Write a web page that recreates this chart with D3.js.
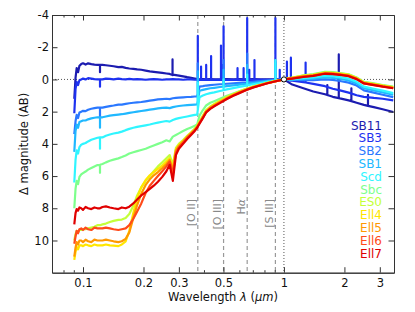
<!DOCTYPE html>
<html>
<head>
<meta charset="utf-8">
<script src="https://cdn.jsdelivr.net/npm/d3@7"></script>
<style>
body { margin: 0; background: #fff; }
svg { display: block; font-family: "DejaVu Sans", sans-serif; }
</style>
</head>
<body>
<div id="chart"></div>
<script>
// wavelength grid in micron, shared by every template
var waveGrid = [
    0.0905, 0.0918, 0.093, 0.0945, 0.096, 0.098, 0.1, 0.103, 0.106, 0.11, 0.114,
    0.118, 0.1215, 0.125, 0.13, 0.136, 0.142, 0.15, 0.156, 0.163, 0.17, 0.178,
    0.186, 0.195, 0.205, 0.215, 0.225, 0.236, 0.248, 0.26, 0.27, 0.28, 0.29,
    0.3, 0.315, 0.33, 0.345, 0.36, 0.37, 0.38, 0.395, 0.41, 0.43, 0.45,
    0.48, 0.52, 0.56, 0.6, 0.65, 0.7, 0.76, 0.82, 0.9, 1.0, 1.1,
    1.25, 1.4, 1.6, 1.75, 1.9, 2.1, 2.3, 2.5, 2.8, 3.1, 3.5
];

// delta magnitude (AB) of each template on the grid, normalised at 1 micron
var magSB11 = [
    1.2, -0.1, -0.7, -0.45, -0.85, -0.95, -1.0, -0.92, -1.0, -0.95, -0.92,
    -0.9, -0.9, -0.9, -0.88, -0.85, -0.82, -0.76, -0.78, -0.72, -0.68, -0.66,
    -0.62, -0.6, -0.55, -0.5, -0.47, -0.44, -0.41, -0.37, -0.34, -0.3, -0.27,
    -0.24, -0.19, -0.14, -0.1, -0.05, -0.02, 0.0, -0.02, 0.0, -0.02, 0.0,
    0.0, -0.02, 0.0, -0.02, 0.0, -0.02, 0.0, 0.0, 0.0, 0.0, 0.32,
    0.55, 0.75, 0.92, 1.08, 1.18, 1.3, 1.45, 1.58, 1.72, 1.85, 2.02
];
var magSB3 = [
    2.1, 0.6, 0.15, 0.35, 0.05, 0.0, -0.05, 0.0, -0.08, -0.05, -0.02,
    0.0, 0.0, 0.0, -0.05, -0.03, 0.0, -0.05, -0.02, 0.0, -0.03, 0.0,
    -0.02, 0.0, 0.02, 0.0, -0.02, 0.0, 0.02, 0.0, 0.0, -0.02, 0.0,
    0.0, 0.02, 0.0, 0.0, 0.02, 0.02, 0.03, 0.03, 0.03, 0.03, 0.03,
    0.03, 0.03, 0.03, 0.03, 0.03, 0.03, 0.02, 0.02, 0.02, 0.0, 0.08,
    0.17, 0.28, 0.42, 0.58, 0.68, 0.82, 0.98, 1.08, 1.15, 1.2, 1.3
];
var magSB2 = [
    3.4, 2.6, 2.2, 2.4, 2.05, 2.0, 1.95, 1.97, 1.88, 1.82, 1.78,
    1.75, 1.75, 1.75, 1.7, 1.66, 1.62, 1.56, 1.56, 1.52, 1.48, 1.45,
    1.42, 1.4, 1.36, 1.32, 1.28, 1.24, 1.22, 1.2, 1.22, 1.17, 1.15,
    1.13, 1.11, 1.09, 1.08, 1.06, 1.05, 0.45, 0.42, 0.38, 0.35, 0.33,
    0.3, 0.27, 0.24, 0.21, 0.18, 0.15, 0.11, 0.08, 0.04, 0.0, 0.02,
    0.04, 0.04, 0.0, 0.03, 0.1, 0.2, 0.38, 0.68, 0.82, 0.95, 1.1
];
var magSB1 = [
    4.5, 3.2, 2.8, 3.0, 2.65, 2.6, 2.55, 2.55, 2.48, 2.42, 2.38,
    2.35, 2.35, 2.35, 2.3, 2.25, 2.22, 2.18, 2.16, 2.12, 2.08, 2.04,
    2.0, 1.96, 1.92, 1.88, 1.84, 1.8, 1.77, 1.75, 1.78, 1.72, 1.68,
    1.65, 1.62, 1.6, 1.58, 1.56, 1.55, 0.7, 0.65, 0.6, 0.55, 0.52,
    0.47, 0.42, 0.37, 0.32, 0.27, 0.22, 0.16, 0.11, 0.06, 0.0, 0.0,
    -0.02, -0.05, -0.12, -0.1, -0.04, 0.06, 0.25, 0.55, 0.68, 0.8, 0.95
];
var magScd = [
    6.4, 5.0, 4.4, 4.6, 4.2, 4.05, 4.0, 3.95, 3.85, 3.75, 3.68,
    3.62, 3.6, 3.6, 3.5, 3.42, 3.36, 3.3, 3.24, 3.15, 3.07, 3.0,
    2.95, 2.9, 2.85, 2.8, 2.74, 2.68, 2.63, 2.58, 2.62, 2.52, 2.45,
    2.4, 2.35, 2.3, 2.25, 2.2, 2.18, 1.1, 1.0, 0.92, 0.85, 0.8,
    0.72, 0.62, 0.54, 0.46, 0.38, 0.3, 0.22, 0.15, 0.08, 0.0, 0.0,
    -0.08, -0.12, -0.22, -0.2, -0.14, -0.05, 0.15, 0.45, 0.58, 0.7, 0.85
];
var magSbc = [
    8.0, 6.8, 6.3, 6.5, 6.05, 5.9, 5.82, 5.72, 5.6, 5.5, 5.4,
    5.32, 5.3, 5.25, 5.15, 5.05, 4.98, 4.9, 4.82, 4.72, 4.6, 4.52,
    4.45, 4.38, 4.3, 4.2, 4.1, 4.0, 3.9, 3.78, 3.85, 3.55, 3.45,
    3.35, 3.2, 3.08, 2.98, 2.88, 2.8, 2.25, 1.9, 1.62, 1.45, 1.35,
    1.2, 1.02, 0.87, 0.73, 0.58, 0.45, 0.33, 0.22, 0.11, 0.0, -0.1,
    -0.25, -0.33, -0.47, -0.45, -0.4, -0.32, -0.12, 0.15, 0.25, 0.35, 0.45
];
var magES0 = [
    10.0, 9.6, 9.4, 9.5, 9.35, 9.35, 9.3, 9.3, 9.25, 9.2, 9.15,
    9.05, 9.05, 9.0, 8.95, 8.85, 8.78, 8.72, 8.7, 8.6, 8.35, 7.85,
    7.2, 6.7, 6.3, 6.0, 5.7, 5.4, 5.15, 4.9, 4.7, 5.3, 4.25,
    4.0, 3.76, 3.5, 3.28, 3.05, 2.85, 2.6, 2.25, 1.9, 1.68, 1.52,
    1.32, 1.08, 0.9, 0.75, 0.58, 0.45, 0.33, 0.22, 0.11, 0.0, -0.12,
    -0.24, -0.3, -0.44, -0.42, -0.37, -0.3, -0.1, 0.17, 0.27, 0.37, 0.47
];
var magEll4 = [
    11.2, 10.7, 10.4, 10.55, 10.3, 10.3, 10.35, 10.25, 10.3, 10.35, 10.25,
    10.3, 10.3, 10.3, 10.25, 10.3, 10.32, 10.35, 10.25, 10.05, 9.4, 8.3,
    7.35, 6.7, 6.25, 5.95, 5.75, 5.55, 5.35, 5.1, 4.9, 5.5, 4.35,
    4.08, 3.82, 3.55, 3.32, 3.1, 2.9, 2.65, 2.3, 1.95, 1.72, 1.56,
    1.36, 1.12, 0.93, 0.78, 0.61, 0.47, 0.35, 0.23, 0.12, 0.0, -0.1,
    -0.22, -0.28, -0.42, -0.4, -0.35, -0.28, -0.08, 0.19, 0.29, 0.39, 0.49
];
var magEll5 = [
    11.0, 10.45, 10.1, 10.25, 10.0, 10.0, 10.1, 9.95, 10.05, 10.1, 9.95,
    10.0, 10.0, 10.0, 9.95, 10.0, 10.05, 10.1, 10.05, 9.9, 9.5, 8.6,
    7.8, 7.1, 6.55, 6.2, 5.95, 5.75, 5.5, 5.25, 5.0, 5.65, 4.42,
    4.13, 3.86, 3.58, 3.35, 3.12, 2.93, 2.69, 2.34, 1.99, 1.76, 1.6,
    1.4, 1.16, 0.96, 0.8, 0.63, 0.49, 0.36, 0.24, 0.12, 0.0, -0.08,
    -0.19, -0.25, -0.39, -0.37, -0.32, -0.24, -0.05, 0.22, 0.32, 0.42, 0.52
];
var magEll6 = [
    10.2, 9.75, 9.4, 9.55, 9.3, 9.25, 9.35, 9.2, 9.3, 9.35, 9.2,
    9.25, 9.25, 9.25, 9.2, 9.25, 9.3, 9.35, 9.3, 9.25, 9.05, 8.65,
    8.2, 7.7, 7.05, 6.6, 6.3, 6.0, 5.7, 5.4, 5.1, 5.9, 4.55,
    4.22, 3.92, 3.63, 3.39, 3.16, 2.97, 2.72, 2.38, 2.03, 1.8, 1.64,
    1.44, 1.2, 0.99, 0.83, 0.65, 0.5, 0.37, 0.25, 0.13, 0.0, -0.06,
    -0.17, -0.24, -0.37, -0.35, -0.3, -0.22, -0.03, 0.24, 0.34, 0.44, 0.54
];
var magEll7 = [
    9.0, 8.3, 8.05, 8.15, 7.95, 8.0, 8.1, 7.92, 8.0, 8.05, 7.95,
    8.0, 8.0, 7.92, 7.88, 7.95, 8.0, 8.05, 7.95, 8.0, 7.9, 7.7,
    7.45, 7.2, 7.0, 6.8, 6.6, 6.35, 6.05, 5.7, 5.3, 6.3, 4.7,
    4.3, 4.0, 3.7, 3.45, 3.2, 3.0, 2.75, 2.4, 2.05, 1.83, 1.67,
    1.47, 1.22, 1.01, 0.85, 0.66, 0.51, 0.38, 0.25, 0.13, 0.0, -0.05,
    -0.15, -0.22, -0.35, -0.33, -0.28, -0.2, -0.02, 0.25, 0.35, 0.45, 0.55
];

// narrow features: [wavelength, continuum under the feature, feature tip]
var linesSB11 = [[0.1215, -0.9, -0.45], [0.279, -0.27, -1.24], [1.644, 0.97, 0.35],
    [1.875, 1.16, -1.55], [2.166, 1.35, 0.55], [2.62, 1.64, 0.95]];
var linesSB3 = [[0.1215, 0.0, 0.45], [0.3727, 0.03, -2.7], [0.3869, 0.03, -0.8], [0.4102, 0.03, -0.9],
    [0.434, 0.03, -1.45], [0.4861, 0.03, -2.1], [0.4959, 0.03, -0.9], [0.5007, 0.03, -3.3],
    [0.5876, 0.03, -0.7], [0.63, 0.03, -0.7], [0.6563, 0.03, -3.8], [0.6724, 0.03, -0.6],
    [0.7135, 0.03, -1.2], [0.9069, 0.02, -3.8], [0.9532, 0.01, -0.6], [1.035, 0.03, -1.1],
    [1.083, 0.07, -1.35], [1.282, 0.19, -1.05]];
var linesSB2 = [[0.1215, 1.75, 2.4], [0.3727, 0.89, -1.0], [0.5007, 0.285, -1.2],
    [0.6563, 0.176, -1.6], [0.9069, 0.037, -1.1]];
var linesSB1 = [[0.1215, 2.35, 3.0], [0.3727, 1.32, -0.5], [0.5007, 0.445, -0.6],
    [0.6563, 0.264, -0.9], [0.9069, 0.056, -1.0]];
var linesScd = [[0.1215, 3.6, 4.3], [0.3727, 1.89, 0.2], [0.5007, 0.67, 0.0],
    [0.6563, 0.37, -0.3], [0.9069, 0.075, -1.2]];
var linesSbc = [[0.1215, 5.3, 5.8]];

var templateNames = ["SB11", "SB3", "SB2", "SB1", "Scd", "Sbc", "ES0", "Ell4", "Ell5", "Ell6", "Ell7"];
var templateMags = [magSB11, magSB3, magSB2, magSB1, magScd, magSbc, magES0, magEll4, magEll5, magEll6, magEll7];
var templateLines = [linesSB11, linesSB3, linesSB2, linesSB1, linesScd, linesSbc, [], [], [], [], []];
var templateColors = ["#1c1cb0", "#1e32f0", "#2a78ff", "#20b8ff", "#30f5ff", "#7dff8c",
    "#c4ff3a", "#ffe600", "#ff9800", "#ff4a1a", "#e00000"];

var refLineNames = ["[O II]", "[O III]", "H", "[S III]"];
var refLineWaves = [0.3727, 0.5007, 0.6563, 0.9069];

var xMajorTicks = [0.1, 0.2, 0.3, 0.5, 1, 2, 3];
var xMinorTicks = [0.08, 0.09, 0.4, 0.6, 0.7, 0.8, 0.9];
var yTicks = [-4, -2, 0, 2, 4, 6, 8, 10];

var width = 415, height = 312;
var margin = {top: 15, right: 21, bottom: 39.3, left: 52};

var svg = d3.select("#chart").append("svg")
    .attr("width", width)
    .attr("height", height);

svg.append("rect").attr("width", width).attr("height", height).attr("fill", "#fff");

var x = d3.scaleLog().domain([0.0701, 3.53]).range([margin.left, width - margin.right]);
var y = d3.scaleLinear().domain([-4, 12]).range([margin.top, height - margin.bottom]);

var x0 = margin.left, x1 = width - margin.right;
var y0 = margin.top, y1 = height - margin.bottom;

svg.append("clipPath").attr("id", "plotclip")
    .append("rect")
    .attr("x", x0).attr("y", y0)
    .attr("width", x1 - x0).attr("height", y1 - y0);

// dashed reference lines for the main emission lines
svg.selectAll(".refline")
    .data(refLineWaves)
    .enter().append("line")
    .attr("class", "refline")
    .attr("x1", function(d) { return x(d); })
    .attr("x2", function(d) { return x(d); })
    .attr("y1", y0).attr("y2", y1)
    .style("stroke", "#999")
    .style("stroke-width", 1.2)
    .style("stroke-dasharray", "4,3");

svg.selectAll(".reflabel")
    .data(refLineNames)
    .enter().append("text")
    .attr("class", "reflabel")
    .attr("transform", function(d, i) {
        return "translate(" + (x(refLineWaves[i]) - 2.5) + "," + 199 + ")rotate(-90)";
    })
    .attr("text-anchor", "end")
    .style("font-size", "11px")
    .style("fill", "#888")
    .each(function(d, i) {
        var t = d3.select(this);
        t.append("tspan").text(d);
        if (d === "H") {
            t.append("tspan").style("font-style", "italic").text("α");
        }
    });

// dotted normalisation lines
svg.append("line")
    .attr("x1", x0).attr("x2", x1)
    .attr("y1", y(0)).attr("y2", y(0))
    .style("stroke", "#555").style("stroke-width", 1)
    .style("stroke-dasharray", "1,2");
svg.append("line")
    .attr("x1", x(1)).attr("x2", x(1))
    .attr("y1", y0).attr("y2", y1)
    .style("stroke", "#555").style("stroke-width", 1)
    .style("stroke-dasharray", "1,2");

// merge continuum grid and narrow features into one sorted list
function buildPoints(mags, lines) {
    var pts = waveGrid.map(function(w, i) { return [w, mags[i]]; });
    lines.forEach(function(l) {
        pts.push([l[0], l[1]], [l[0], l[2]], [l[0], l[1]]);
    });
    pts.sort(function(a, b) { return a[0] - b[0]; });
    return pts;
}

var lineGen = d3.line()
    .x(function(d) { return x(d[0]); })
    .y(function(d) { return y(d[1]); });

var spectra = svg.append("g").attr("clip-path", "url(#plotclip)");
spectra.selectAll(".spec")
    .data(templateNames)
    .enter().append("path")
    .attr("class", "spec")
    .attr("d", function(d, i) { return lineGen(buildPoints(templateMags[i], templateLines[i])); })
    .style("fill", "none")
    .style("stroke", function(d, i) { return templateColors[i]; })
    .style("stroke-width", 2.2)
    .style("stroke-linejoin", "round");

// normalisation point
svg.append("circle")
    .attr("cx", x(1)).attr("cy", y(0)).attr("r", 2.6)
    .style("fill", "#fff").style("stroke", "#000").style("stroke-width", 1);

// axes, ticks pointing inward on all four sides
function styleAxis(g) {
    g.selectAll("path.domain").style("stroke", "#333");
    g.selectAll(".tick line").style("stroke", "#333");
    g.selectAll(".tick text").style("font-size", "11.5px").style("fill", "#111")
        .style("font-family", "DejaVu Sans, sans-serif");
}

svg.append("g")
    .attr("transform", "translate(0," + y1 + ")")
    .call(d3.axisBottom(x).tickValues(xMajorTicks).tickFormat(function(d) { return String(d); })
        .tickSizeInner(-5.5).tickSizeOuter(0).tickPadding(6))
    .call(styleAxis);
svg.append("g")
    .attr("transform", "translate(0," + y1 + ")")
    .call(d3.axisBottom(x).tickValues(xMinorTicks).tickFormat("").tickSizeInner(-2.5).tickSizeOuter(0))
    .call(styleAxis);
svg.append("g")
    .attr("transform", "translate(0," + y0 + ")")
    .call(d3.axisTop(x).tickValues(xMajorTicks).tickFormat("").tickSizeInner(-5.5).tickSizeOuter(0))
    .call(styleAxis);
svg.append("g")
    .attr("transform", "translate(0," + y0 + ")")
    .call(d3.axisTop(x).tickValues(xMinorTicks).tickFormat("").tickSizeInner(-2.5).tickSizeOuter(0))
    .call(styleAxis);
svg.append("g")
    .attr("transform", "translate(" + x0 + ",0)")
    .call(d3.axisLeft(y).tickValues(yTicks).tickFormat(function(d) { return String(d); })
        .tickSizeInner(-5.5).tickSizeOuter(0).tickPadding(3))
    .call(styleAxis);
svg.append("g")
    .attr("transform", "translate(" + x1 + ",0)")
    .call(d3.axisRight(y).tickValues(yTicks).tickFormat("").tickSizeInner(-5.5).tickSizeOuter(0))
    .call(styleAxis);

// axis titles
svg.append("text")
    .attr("transform", "translate(28," + ((y0 + y1) / 2) + ")rotate(-90)")
    .attr("text-anchor", "middle")
    .style("font-size", "11.5px")
    .style("fill", "#111")
    .text("Δ magnitude (AB)");

var xt = svg.append("text")
    .attr("x", (x0 + x1) / 2).attr("y", 301)
    .attr("text-anchor", "middle")
    .style("font-size", "11.5px")
    .style("fill", "#111");
xt.append("tspan").text("Wavelength  ");
xt.append("tspan").style("font-style", "italic").text("λ");
xt.append("tspan").text(" (");
xt.append("tspan").style("font-style", "italic").text("μm");
xt.append("tspan").text(")");

// legend: coloured names, right aligned
svg.selectAll(".legend")
    .data(templateNames)
    .enter().append("text")
    .attr("class", "legend")
    .attr("x", 382)
    .attr("y", function(d, i) { return 129.5 + i * 12.8; })
    .attr("text-anchor", "end")
    .style("font-size", "12px")
    .style("fill", function(d, i) { return templateColors[i]; })
    .text(function(d) { return d; });
</script>
</body>
</html>
